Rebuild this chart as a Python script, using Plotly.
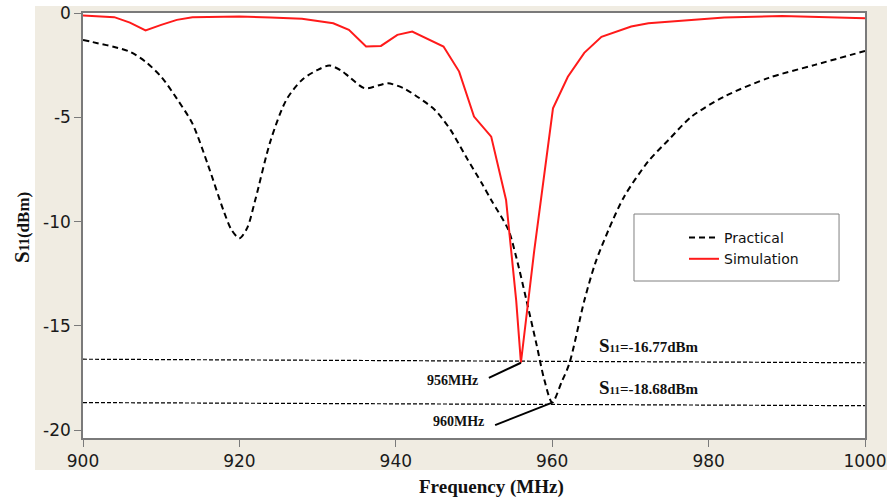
import plotly.graph_objects as go

# ---------------- data ----------------
prac_x = [900, 902, 904, 906, 908, 910, 912, 914, 916, 918, 919, 920, 921, 922, 924, 926, 928,
          930, 931.5, 933, 934, 936, 938, 939, 941, 943, 945, 947, 949, 951, 952.2, 954.4,
          955.4, 956.7, 958, 959, 960, 961.2, 962.2, 964.1, 965.5, 967.2, 969.2, 972.3,
          974.9, 977.8, 982, 987.7, 993.6, 1000]
prac_y = [-1.28, -1.45, -1.62, -1.85, -2.33, -3.05, -4.1, -5.3, -7.3, -9.5, -10.4, -10.8, -10.3,
          -9.0, -6.1, -4.16, -3.2, -2.72, -2.51, -2.75, -3.04, -3.6, -3.44, -3.36, -3.6, -4.07,
          -4.64, -5.6, -6.9, -8.16, -8.96, -10.4, -11.7, -13.76, -15.9, -17.6, -18.68, -17.7,
          -16.8, -13.8, -12.0, -10.4, -8.8, -7.1, -6.07, -4.97, -4.0, -3.1, -2.48, -1.81]

sim_x = [900, 902, 904, 906, 908, 910, 912, 914, 918, 920, 924, 928, 932, 934, 936.2, 938.1,
         940.2, 942.1, 946.1, 948.1, 950, 952.2, 954.1, 955.4, 956, 956.9, 957.7, 960.1,
         962, 964.1, 966.3, 970.1, 972.3, 982, 989.4, 1000]
sim_y = [-0.11, -0.15, -0.19, -0.45, -0.83, -0.56, -0.32, -0.19, -0.17, -0.16, -0.2, -0.27,
         -0.48, -0.8, -1.6, -1.57, -1.04, -0.88, -1.6, -2.8, -4.96, -5.92, -8.96, -13.8,
         -16.77, -13.8, -11.4, -4.56, -3.05, -1.9, -1.13, -0.64, -0.48, -0.21, -0.13, -0.24]

ref_x = [900, 1000]
ref1_y = [-16.6, -16.77]
ref2_y = [-18.68, -18.83]

x_ticks = [900, 920, 940, 960, 980, 1000]
y_ticks = [0, -5, -10, -15, -20]

# ---------------- figure ----------------
fig = go.Figure()

fig.add_trace(go.Scatter(x=ref_x, y=ref1_y, mode="lines", showlegend=False, hoverinfo="skip",
                         line=dict(color="black", width=1.2, dash="4px,2px")))
fig.add_trace(go.Scatter(x=ref_x, y=ref2_y, mode="lines", showlegend=False, hoverinfo="skip",
                         line=dict(color="black", width=1.2, dash="4px,2px")))

fig.add_trace(go.Scatter(x=prac_x, y=prac_y, mode="lines", name="Practical",
                         line=dict(color="black", width=2, dash="6px,4px", shape="spline",
                                   smoothing=0.8)))
fig.add_trace(go.Scatter(x=sim_x, y=sim_y, mode="lines", name="Simulation",
                         line=dict(color="#ff1a1a", width=2)))

serif = "Liberation Serif, Times New Roman, serif"
sans = "DejaVu Sans, Verdana, sans-serif"

shapes = [
    # beige outer panel
    dict(type="rect", xref="paper", yref="paper", x0=-0.0614, x1=1.03, y0=-0.0753, y1=1.0165,
         fillcolor="#F0ECE2", line=dict(width=0), layer="below"),
    # white plot area
    dict(type="rect", xref="paper", yref="paper", x0=0, x1=1, y0=0, y1=1,
         fillcolor="white", line=dict(width=0), layer="below"),
    # legend box
    dict(type="rect", xref="paper", yref="paper", x0=0.7046, x1=0.9668, y0=0.3694, y1=0.527,
         fillcolor="rgba(0,0,0,0)", line=dict(color="#808080", width=1)),
    # leader lines
    dict(type="line", xref="x", yref="y", x0=951.9, y0=-17.5, x1=sim_x[24], y1=sim_y[24],
         line=dict(color="black", width=2)),
    dict(type="line", xref="x", yref="y", x0=952.7, y0=-19.76, x1=prac_x[36], y1=prac_y[36],
         line=dict(color="black", width=2)),
]

annotations = [
    dict(x=947.3, y=-17.6, xref="x", yref="y", text="<b>956MHz</b>", showarrow=False,
         font=dict(family=serif, size=14, color="#111")),
    dict(x=948.0, y=-19.6, xref="x", yref="y", text="<b>960MHz</b>", showarrow=False,
         font=dict(family=serif, size=14, color="#111")),
    dict(x=965.7, y=-15.95, xref="x", yref="y", xanchor="left",
         text="<b><span style='font-size:19px'>S</span><span style='font-size:11px'>11</span>=-16.77dBm</b>",
         showarrow=False, font=dict(family=serif, size=15, color="#111")),
    dict(x=965.7, y=-17.98, xref="x", yref="y", xanchor="left",
         text="<b><span style='font-size:19px'>S</span><span style='font-size:11px'>11</span>=-18.68dBm</b>",
         showarrow=False, font=dict(family=serif, size=15, color="#111")),
    # axis titles
    dict(x=(492 - 83) / 782, y=-(487 - 438) / 425, xref="paper", yref="paper",
         xanchor="center", yanchor="middle",
         text="<b>Frequency (MHz)</b>", showarrow=False,
         font=dict(family=serif, size=19, color="#111")),
    dict(x=-(83 - 22) / 782, y=(438 - 228) / 425, xref="paper", yref="paper", textangle=-90,
         xanchor="center", yanchor="middle",
         text="<b><span style='font-size:21px'>S</span><span style='font-size:14px'>11</span>(dBm)</b>",
         showarrow=False, font=dict(family=serif, size=17, color="#111")),
]

fig.update_layout(
    width=887, height=499,
    margin=dict(l=83, r=22, t=13, b=61),
    paper_bgcolor="white",
    plot_bgcolor="white",
    shapes=shapes,
    annotations=annotations,
    showlegend=True,
    legend=dict(x=(684 - 83) / 782, y=(438 - 222) / 425, xanchor="left", yanchor="top",
                bgcolor="rgba(0,0,0,0)", borderwidth=0,
                font=dict(family=sans, size=14, color="#111"), tracegroupgap=0),
    xaxis=dict(range=[900, 1000], tickvals=x_ticks, ticktext=[str(v) for v in x_ticks],
               automargin=False,
               showgrid=False, zeroline=False, showline=True, mirror=True,
               linecolor="#7a7a7a", linewidth=1.5, ticks="outside", ticklen=7,
               tickcolor="#7a7a7a", tickwidth=1,
               tickfont=dict(family=sans, size=17, color="#1a1a1a")),
    yaxis=dict(range=[-20.38, 0.01], tickvals=y_ticks, ticktext=[str(v) for v in y_ticks],
               automargin=False,
               showgrid=False, zeroline=False, showline=True, mirror=True,
               linecolor="#7a7a7a", linewidth=1.5, ticks="outside", ticklen=7,
               tickcolor="#7a7a7a", tickwidth=1,
               tickfont=dict(family=sans, size=17, color="#1a1a1a")),
)

fig.write_html("out.html", config={"displayModeBar": False},
               post_script="document.body.style.margin='0';document.body.style.overflow='hidden';")
